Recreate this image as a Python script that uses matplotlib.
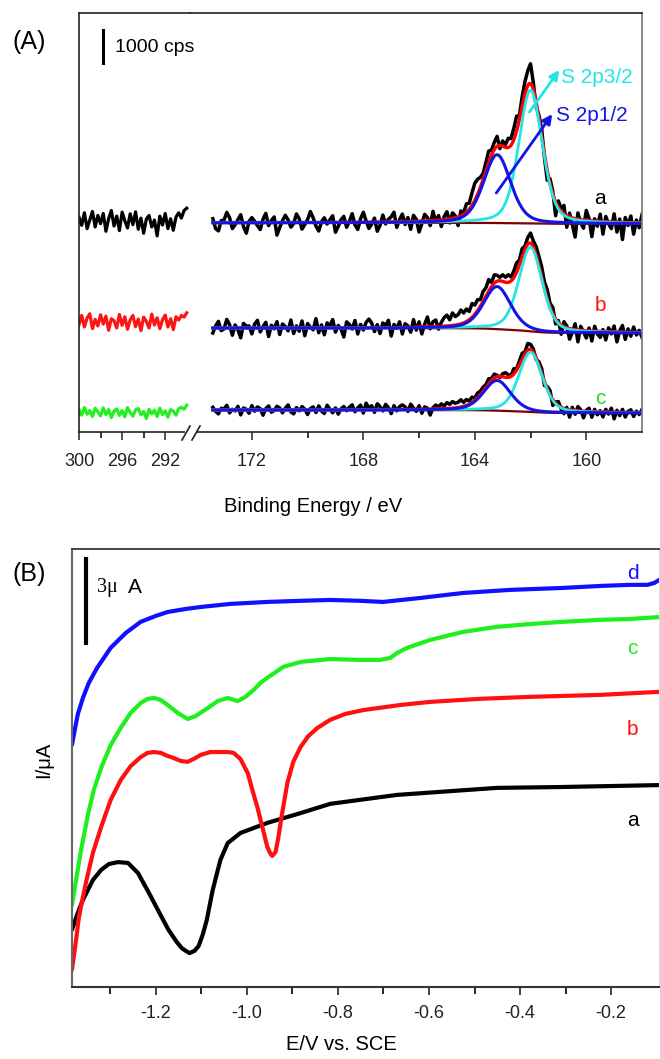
import numpy as np
import matplotlib
matplotlib.use("Agg")
import matplotlib.pyplot as plt
from matplotlib.lines import Line2D
from matplotlib.patches import Rectangle

plt.rcParams['font.family'] = ['Liberation Sans', 'DejaVu Sans']
plt.rcParams['axes.unicode_minus'] = False

# ---------------- panel A : S 2p XPS ----------------
spectra = ['a', 'b', 'c']
left_colors = ['black', '#ff1414', '#22f022']
label_colors = ['black', '#ff1414', '#22dd22']

# fitted components (binding energy / eV, height / cps, fwhm / eV)
p32_center = 162.0
p12_center = 163.2
p32_fwhm = 1.0
p12_fwhm = 1.15
p32_height = [4040, 2550, 1810]
p12_height = [2070, 1290, 915]
bg_low = [6310, 3000, 576]      # background on the low-BE side
bg_step = [30, 150, 90]         # Shirley step
left_level = [6364, 3333, 590]  # level of the 300-290 eV window

# residuals (data - fit) on the 0.1 eV grid, 173.4 -> 158.0 eV
res_a = [120, -180, -250, 60, 80, 310, 150, -180, -60, 90,
         240, -120, -320, 40, 150, 40, -90, -210, 100, 280,
         -90, 60, 170, -380, -150, 60, 220, 80, -140, -30,
         260, 110, -200, -60, 90, 330, 140, -110, -260, 20,
         140, -50, 80, 200, -300, -120, 80, 180, -150, 30,
         260, -80, -220, 100, 300, 40, -190, -60, 120, -280,
         -100, 210, -60, 80, 150, 290, -170, 60, 230, -90,
         120, -240, 180, 60, -330, -80, 200, 100, -150, 280,
         -60, 140, -200, 90, 230, -120, 170, 60, -260, 150,
         40, 250, 180, 380, 520, 460, 300, 180, 260, 350,
         150, 220, 300, -100, 160, 80, 280, 200, 350, 450,
         120, 300, 380, 450, 600, 200, -150, 100, 240, -100,
         -300, 150, 80, -420, 200, 80, 260, -350, 120, -200,
         -560, 190, -100, -250, 300, 60, -480, 70, -150, 220,
         -380, 160, -60, -200, 250, -300, 100, -520, 150, -90,
         200, -350, 80, -150, 250]
res_b = [-150, 60, 200, -80, -30, 260, 100, -220, 90, -60,
         -300, 140, 50, 60, -180, 120, 230, -120, 40, 170,
         -260, 80, -30, 190, -200, 120, 40, -90, 240, -170,
         60, -100, 210, -240, 130, 20, -60, 280, -150, 90,
         -210, 150, 60, 250, -130, 70, -40, -280, 180, 100,
         -40, 220, -190, 100, -70, 160, 260, 140, -120, 90,
         -180, 140, 60, 220, -260, 90, -30, 170, -200, 110,
         40, -150, 230, -90, 160, -210, 80, 300, -60, 150,
         200, -80, 120, 260, 330, 180, 380, 260, 300, 420,
         300, 380, 250, 420, 280, 330, 200, 300, 250, 350,
         120, 250, 180, 100, 200, 150, 230, 120, 200, 280,
         150, 250, 100, 200, 300, 180, 250, 280, 320, 200,
         280, 120, 200, -150, 60, -280, 150, 60, -320, -100,
         180, -360, 120, -40, -220, 90, -300, 150, -80, -180,
         60, -250, 120, -60, 180, -300, 40, 200, -220, 100,
         -120, 160, -80, 60, -150]
res_c = [80, -40, -120, 50, 30, 140, -90, 20, -30, 110,
         -150, 60, 20, -100, 130, -40, 90, 40, -160, 40,
         120, -70, -20, 110, 60, -90, 50, 150, -60, -120,
         70, -30, 100, 20, -140, 40, 90, -80, 120, -40,
         -110, 140, 20, -90, 60, -130, 30, 100, -30, 80,
         150, -60, 60, 140, -100, 200, 60, 120, -80, 180,
         90, -40, 160, 60, -120, 120, -40, 90, 140, 80,
         -60, 160, 40, -60, 110, -120, 70, 30, -180, 40,
         120, 60, 150, 80, 180, 120, 200, 140, 160, 220,
         120, 180, 90, 160, 60, 140, 100, 120, 80, 150,
         60, 120, 40, -40, 90, 140, 80, 30, 160, 40,
         120, 180, 60, 200, 150, 90, -60, 110, 150, -120,
         70, 130, -180, 40, 120, -60, -160, 60, -220, 90,
         -110, 130, 40, -200, 30, 100, -170, 70, -90, 40,
         -150, 80, -60, 120, -200, 60, -100, 90, -140, 30,
         80, -120, 40, -60, 90]
# 300 -> 290 eV window, 0.25 eV grid
res_la = [150, -100, 280, -200, 60, 320, -150, 200, -50, 260,
          -280, 100, 350, -120, 180, -260, 300, 40, -180, 250,
          -80, 310, -220, 120, -340, 90, 200, -150, 60, -420,
          180, -90, 260, -200, 100, -250, 150, 280, 120, 350, 420]
res_lb = [-80, 200, -150, 120, 250, -200, 80, -120, 220, -60,
          180, -250, 100, 40, -180, 230, -100, 160, -220, 60,
          200, -140, 90, -260, 150, 20, -180, 240, -90, 130,
          -200, 70, 210, -150, 100, -230, 160, 60, 200, 150, 280]
res_lc = [100, -80, 150, -50, 60, -120, 130, 20, -100, 140,
          -60, 90, -150, 40, 110, -90, 60, -130, 150, 0,
          -110, 80, 120, -70, 30, -180, 100, -40, 70, -120,
          130, -60, 50, -140, 90, 40, -80, 120, 160, 100, 220]
res_right = [res_a, res_b, res_c]
res_left = [res_la, res_lb, res_lc]

be_right = np.round(173.4 - 0.1 * np.arange(len(res_a)), 2)
be_left = np.round(300.0 - 0.25 * np.arange(len(res_la)), 2)
be_fit = np.linspace(173.4, 158.0, 600)

# ---------------- panel B : CVs ----------------
cv_a_E = [-1.384, -1.373, -1.360, -1.338, -1.320, -1.303, -1.283, -1.261, -1.239, -1.215,
          -1.193, -1.172, -1.154, -1.143, -1.134, -1.126, -1.115, -1.106, -1.097, -1.088,
          -1.075, -1.058, -1.042, -1.014, -0.955, -0.882, -0.817, -0.670, -0.451, -0.313, -0.094]
cv_a_I = [2.04, 2.57, 3.11, 3.82, 4.18, 4.39, 4.46, 4.43, 4.07, 3.36,
          2.68, 2.04, 1.61, 1.39, 1.29, 1.21, 1.29, 1.46, 1.86, 2.39,
          3.46, 4.54, 5.14, 5.50, 5.86, 6.21, 6.54, 6.86, 7.11, 7.14, 7.21]
cv_b_E = [-1.384, -1.375, -1.369, -1.360, -1.351, -1.338, -1.320, -1.299, -1.277, -1.255,
          -1.233, -1.218, -1.204, -1.189, -1.174, -1.161, -1.145, -1.130, -1.117, -1.101,
          -1.080, -1.064, -1.042, -1.029, -1.014, -0.998, -0.988, -0.977, -0.966, -0.955,
          -0.948, -0.944, -0.937, -0.931, -0.922, -0.911, -0.898, -0.882, -0.865, -0.845,
          -0.817, -0.784, -0.744, -0.663, -0.598, -0.488, -0.379, -0.225, -0.094]
cv_b_I = [0.61, 1.68, 2.46, 3.21, 3.89, 4.79, 5.71, 6.68, 7.39, 7.89,
          8.21, 8.36, 8.39, 8.36, 8.25, 8.18, 8.07, 8.04, 8.14, 8.29,
          8.39, 8.39, 8.39, 8.36, 8.14, 7.64, 7.04, 6.43, 5.71, 5.00,
          4.75, 4.68, 4.82, 5.32, 6.25, 7.29, 8.04, 8.57, 8.96, 9.25,
          9.54, 9.75, 9.89, 10.07, 10.18, 10.29, 10.36, 10.43, 10.54]
cv_c_E = [-1.384, -1.375, -1.364, -1.349, -1.336, -1.320, -1.299, -1.277, -1.255, -1.233,
          -1.218, -1.204, -1.189, -1.174, -1.152, -1.130, -1.112, -1.086, -1.064, -1.042,
          -1.020, -1.003, -0.985, -0.970, -0.955, -0.920, -0.882, -0.817, -0.751, -0.707,
          -0.685, -0.670, -0.648, -0.598, -0.525, -0.451, -0.379, -0.306, -0.225, -0.159, -0.094]
cv_c_I = [2.93, 3.82, 4.89, 6.14, 7.04, 7.82, 8.64, 9.25, 9.79, 10.14,
          10.29, 10.32, 10.25, 10.07, 9.79, 9.57, 9.68, 9.96, 10.21, 10.32,
          10.21, 10.36, 10.61, 10.86, 11.04, 11.43, 11.61, 11.71, 11.68, 11.68,
          11.75, 11.93, 12.11, 12.39, 12.68, 12.86, 12.96, 13.04, 13.11, 13.14, 13.21]
cv_d_E = [-1.384, -1.377, -1.371, -1.360, -1.347, -1.329, -1.299, -1.266, -1.233, -1.200,
          -1.174, -1.134, -1.101, -1.036, -0.955, -0.882, -0.817, -0.751, -0.701, -0.620,
          -0.525, -0.422, -0.306, -0.225, -0.159, -0.120, -0.105, -0.094]
cv_d_I = [8.64, 9.25, 9.75, 10.32, 10.86, 11.39, 12.11, 12.64, 13.04, 13.25,
          13.39, 13.50, 13.57, 13.68, 13.75, 13.79, 13.82, 13.79, 13.75, 13.89,
          14.07, 14.18, 14.25, 14.32, 14.36, 14.36, 14.43, 14.54]
cv_E = [cv_a_E, cv_b_E, cv_c_E, cv_d_E]
cv_I = [cv_a_I, cv_b_I, cv_c_I, cv_d_I]
cv_labels = ['a', 'b', 'c', 'd']
cv_colors = ['black', '#ff1010', '#1ef01e', '#1010ff']
cv_label_I = [5.96, 9.18, 12.1, 14.75]


def pvoigt(e, center, height, fwhm, eta=0.35):
    x = (e - center) / fwhm
    return height * ((1 - eta) * np.exp(-4 * np.log(2) * x ** 2) + eta / (1 + 4 * x ** 2))


def fit_parts(e, k):
    """background, S 2p3/2 and S 2p1/2 curves of spectrum k on grid e"""
    p32 = pvoigt(e, p32_center, p32_height[k], p32_fwhm)
    p12 = pvoigt(e, p12_center, p12_height[k], p12_fwhm)
    cum = np.cumsum((p32 + p12)[::-1])[::-1]
    bg = bg_low[k] + bg_step[k] * cum / cum[0]
    return bg, p32, p12


W, H = 660, 1059


def box(l, t, r, b):
    return [l / W, 1 - b / H, (r - l) / W, (b - t) / H]


fig = plt.figure(figsize=(6.6, 10.59), dpi=100)

axL = fig.add_axes(box(79, 13, 190, 432))
axR = fig.add_axes(box(190, 13, 642, 432))
axR.patch.set_alpha(0)

for k in range(3):
    # 300-290 eV window
    axL.plot(be_left, left_level[k] + np.array(res_left[k]), color=left_colors[k], lw=2.3)
    # S 2p region
    bg, p32, p12 = fit_parts(be_right, k)
    axR.plot(be_right, bg + p32 + p12 + np.array(res_right[k]), color='black', lw=2.5)
    bg, p32, p12 = fit_parts(be_fit, k)
    axR.plot(be_fit, bg, color='#800000', lw=1.6)
    axR.plot(be_fit, bg + p32 + p12, color='#ff0000', lw=2.4)
    axR.plot(be_fit, bg + p32, color='#22e6e6', lw=2.0)
    axR.plot(be_fit, bg + p12, color='#1414e6', lw=2.2)

for ax in (axL, axR):
    ax.set_ylim(0, 12700)
    ax.tick_params(axis='y', left=False, right=False, labelleft=False)
    ax.tick_params(axis='x', which='major', direction='out', length=6, width=1.1,
                   labelsize=13, pad=9, colors='#222222')
    ax.tick_params(axis='x', which='minor', direction='out', length=4, width=1.1)
    for s in ax.spines.values():
        s.set_linewidth(1.2)
        s.set_color('#222222')

axL.set_xlim(300, 289.7)
axL.set_xticks([300, 296, 292])
axL.set_xticks([298, 294], minor=True)
axL.spines['right'].set_visible(False)

axR.set_xlim(174.22, 158.0)
axR.set_xticks([172, 168, 164, 160])
axR.set_xticks([170, 166, 162], minor=True)
axR.spines['left'].set_visible(False)
axR.spines['right'].set_color('#777777')

# axis break
fig.patches.append(Rectangle((185 / W, 1 - 436 / H), 11 / W, 8 / H, transform=fig.transFigure,
                             facecolor='white', edgecolor='none', zorder=5))
for x0 in (182, 192):
    fig.lines.append(Line2D([x0 / W, (x0 + 8) / W], [1 - 440 / H, 1 - 426 / H],
                            transform=fig.transFigure, color='#222222', lw=1.2, zorder=6))

# scale bar and labels in panel A
axL.plot([297.77, 297.77], [11180, 12180], color='black', lw=2.2, clip_on=False)
fig.text(115 / W, 1 - 47 / H, '1000 cps', fontsize=14, va='center', ha='left')
for k, name in enumerate(spectra):
    axR.text(159.5, [7091, 3848, 1030][k], name, color=label_colors[k], fontsize=15,
             ha='center', va='center')
axR.annotate('', xy=(160.97, 10970), xytext=(162.04, 9697),
             arrowprops=dict(arrowstyle='-|>', color='#22e6e6', lw=2.0, mutation_scale=14,
                             shrinkA=0, shrinkB=0))
axR.text(160.9, 10758, 'S 2p3/2', color='#22e6e6', fontsize=15, va='center', ha='left')
axR.annotate('', xy=(161.22, 9636), xytext=(163.23, 7242),
             arrowprops=dict(arrowstyle='-|>', color='#1414e6', lw=2.0, mutation_scale=14,
                             shrinkA=0, shrinkB=0))
axR.text(161.08, 9606, 'S 2p1/2', color='#1414e6', fontsize=15, va='center', ha='left')

fig.text(12 / W, 1 - 42 / H, '(A)', fontsize=18, va='center', ha='left')
fig.text(313 / W, 1 - 507 / H, 'Binding Energy / eV', fontsize=14.5, va='center', ha='center')

# ---------------- panel B ----------------
axB = fig.add_axes(box(71.5, 549, 659, 987))
for k in range(4):
    axB.plot(cv_E[k], cv_I[k], color=cv_colors[k], lw=3.0, solid_capstyle='round',
             solid_joinstyle='round')
    axB.text(-0.153, cv_label_I[k], cv_labels[k], color=cv_colors[k], fontsize=15,
             ha='center', va='center')
axB.set_xlim(-1.385, -0.095)
axB.set_ylim(0, 15.64)
axB.set_xticks([-1.2, -1.0, -0.8, -0.6, -0.4, -0.2])
axB.set_xticklabels(['-1.2', '-1.0', '-0.8', '-0.6', '-0.4', '-0.2'])
axB.set_xticks([-1.3, -1.1, -0.9, -0.7, -0.5, -0.3], minor=True)
axB.tick_params(axis='y', left=False, labelleft=False)
axB.tick_params(axis='x', which='major', direction='out', length=6, width=1.2,
                labelsize=13, pad=7, colors='#222222')
axB.tick_params(axis='x', which='minor', direction='out', length=5, width=1.2)
axB.spines['left'].set_color('#666666')
axB.spines['left'].set_linewidth(1.5)
axB.spines['bottom'].set_color('#333333')
axB.spines['bottom'].set_linewidth(1.5)
axB.spines['top'].set_color('#444444')
axB.spines['top'].set_linewidth(1.4)
axB.spines['right'].set_color('#dddddd')

axB.plot([-1.353, -1.353], [12.29, 15.29], color='black', lw=3.0)
axB.text(-1.330, 14.25, '3μ', fontsize=14.5, family=['Liberation Serif', 'DejaVu Serif'],
         ha='left', va='center')
axB.text(-1.246, 14.25, 'A', fontsize=15, ha='center', va='center')

fig.text(12 / W, 1 - 574 / H, '(B)', fontsize=18, va='center', ha='left')
fig.text(44 / W, 1 - 760 / H, 'I/μA', fontsize=14.5, rotation=90, va='center', ha='center')
fig.text(341 / W, 1 - 1045 / H, 'E/V vs. SCE', fontsize=14.5, va='center', ha='center')

fig.savefig('out.png', dpi=100)
